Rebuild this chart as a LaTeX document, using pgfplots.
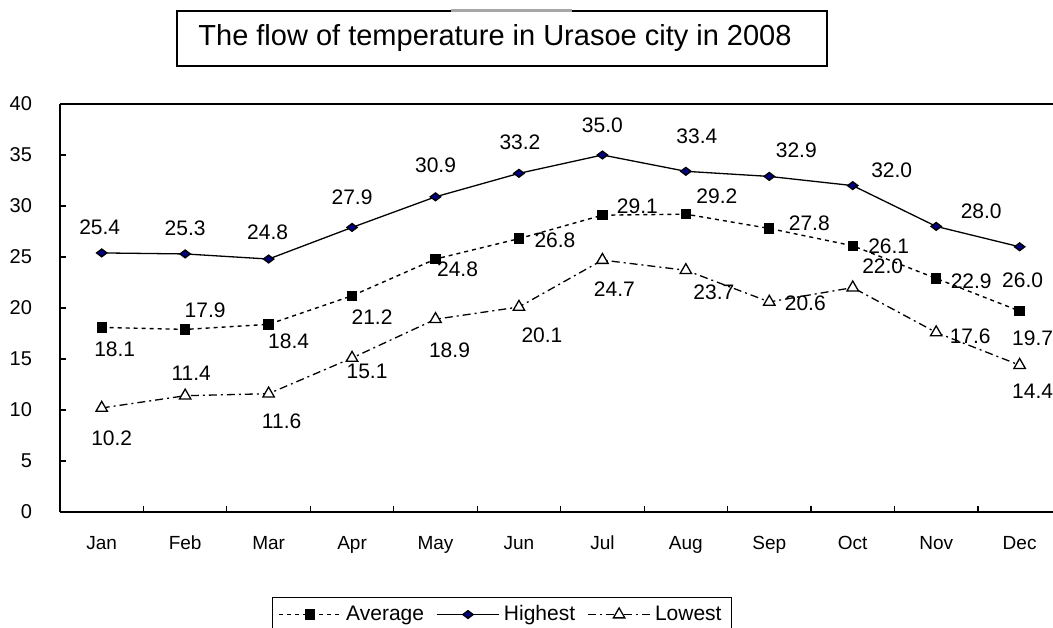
\documentclass[border=0pt]{standalone}
\usepackage{pgfplots}
\pgfplotsset{compat=1.18}
\usepackage{fontspec}
\setmainfont{Liberation Sans}
\definecolor{navyblue}{RGB}{0,0,128}
\begin{document}
\begin{tikzpicture}
\useasboundingbox (0,0) rectangle (526.5pt,313.5pt);
\begin{axis}[
  at={(30pt,57.5pt)}, anchor=south west,
  scale only axis, width=496.5pt, height=204pt,
  xmin=-0.5, xmax=11.4, ymin=0, ymax=40,
  axis x line*=bottom, axis y line*=left,
  axis line style={line width=0.8pt},
  tick align=inside,
  xtick={0.5,1.5,...,10.5},
  xticklabels={},
  extra x ticks={0,1,...,11},
  extra x tick labels={Jan,Feb,Mar,Apr,May,Jun,Jul,Aug,Sep,Oct,Nov,Dec},
  extra x tick style={major tick length=0pt},
  ytick={0,5,...,40},
  major tick length=3pt,
  tick style={black, line width=0.6pt},
  xticklabel style={font=\fontsize{9.5}{10}\selectfont, text height=7pt, text depth=0pt, yshift=-8pt},
  yticklabel style={font=\fontsize{10}{11}\selectfont, xshift=-10.5pt},
  /pgf/number format/assume math mode=true,
  clip=false,
  legend style={at={(0.445,-0.208)}, anchor=north, legend columns=3, draw=black, line width=0.6pt,
    font=\fontsize{10.5}{12}\selectfont, inner xsep=3pt, inner ysep=2pt,
    /tikz/every even column/.append style={column sep=4pt}},
  legend image code/.code={\draw[mark repeat=2,mark phase=2,#1] plot coordinates {(0cm,0cm) (0.55cm,0cm) (1.1cm,0cm)};},
  point meta=explicit symbolic,
  visualization depends on={\thisrow{dx} \as \mydx},
  visualization depends on={\thisrow{dy} \as \mydy},
  nodes near coords={\pgfplotspointmeta},
  nodes near coords style={anchor=center, xshift=\mydx pt, yshift=\mydy pt, font=\fontsize{10.5}{12}\selectfont, text=black, inner sep=0pt, solid},
]
\draw[line width=0.8pt] (rel axis cs:0,1) -- (rel axis cs:1,1);

\addplot[black, line width=0.7pt, dash pattern=on 2pt off 2pt, mark=square*, mark size=2.25pt, mark options={solid, fill=black}]
table[x=x, y=y, meta=lab] {
x y lab dx dy
0 18.1 18.1 6.5 -11
1 17.9 17.9 10 9.5
2 18.4 18.4 10 -8.5
3 21.2 21.2 10 -10.5
4 24.8 24.8 11 -5
5 26.8 26.8 18 -1
6 29.1 29.1 17.5 4.5
7 29.2 29.2 15.5 9
8 27.8 27.8 20 2.5
9 26.1 26.1 18 0
10 22.9 22.9 17.5 -1.5
11 19.7 19.7 6.5 -13.5
};
\addlegendentry{Average}

\addplot[black, line width=0.65pt, solid, mark=diamond*, mark size=2.6pt, mark options={solid, fill=navyblue, draw=black, rotate=90}]
table[x=x, y=y, meta=lab] {
x y lab dx dy
0 25.4 25.4 -1 13
1 25.3 25.3 0 13
2 24.8 24.8 -0.5 13.5
3 27.9 27.9 0 15
4 30.9 30.9 0 16
5 33.2 33.2 0.5 15.5
6 35.0 35.0 0 15
7 33.4 33.4 5.5 17.5
8 32.9 32.9 13.5 13
9 32.0 32.0 19.5 7.5
10 28.0 28.0 22.5 7.5
11 26.0 26.0 1.5 -16.5
};
\addlegendentry{Highest}

\addplot[black, line width=0.65pt, dash pattern=on 4pt off 2pt on 1pt off 2pt, mark=triangle*, mark size=3.3pt, mark options={solid, fill=white, draw=black}]
table[x=x, y=y, meta=lab] {
x y lab dx dy
0 10.2 10.2 5 -15
1 11.4 11.4 3 11
2 11.6 11.6 6.5 -14
3 15.1 15.1 7.5 -6.5
4 18.9 18.9 7 -15.5
5 20.1 20.1 11.5 -14
6 24.7 24.7 6 -14.5
7 23.7 23.7 14 -11
8 20.6 20.6 18 -0.5
9 22.0 22.0 15 10.5
10 17.6 17.6 17 -2
11 14.4 14.4 6.5 -13
};
\addlegendentry{Lowest}
\end{axis}
\node[draw, line width=0.8pt, minimum width=325pt, minimum height=27.5pt, inner sep=0pt,
  font=\fontsize{14.5}{16}\selectfont] at (251pt,294.25pt) {\hspace*{-7pt}The flow of temperature in Urasoe city in 2008};
\draw[gray!70, line width=1.2pt] (225.5pt,308.3pt) -- (286pt,308.3pt);
\end{tikzpicture}
\end{document}
